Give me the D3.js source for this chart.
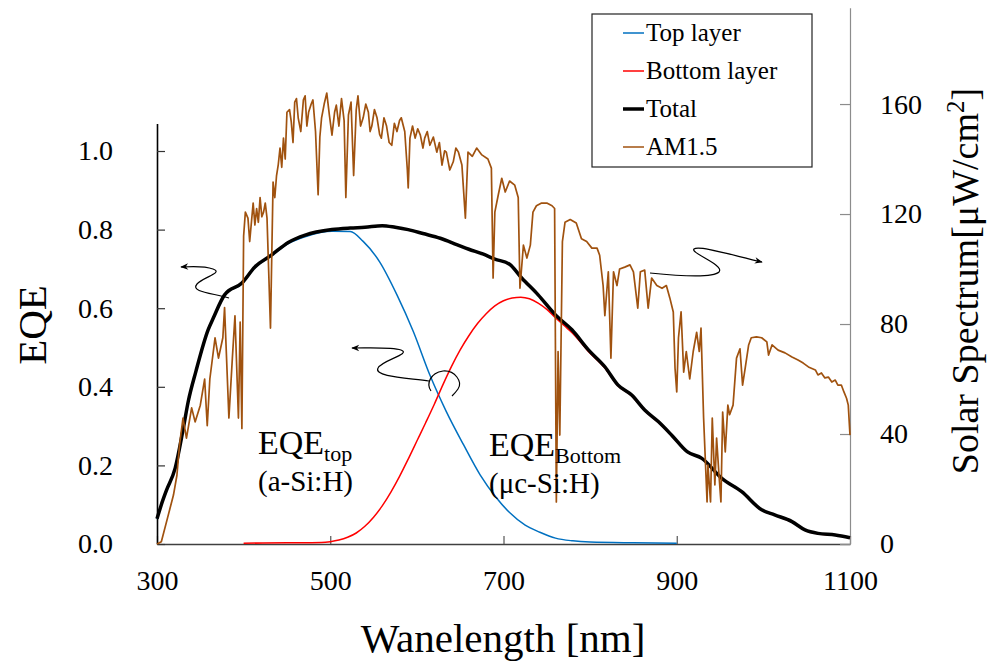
<!DOCTYPE html>
<html>
<head>
<meta charset="utf-8">
<script src="https://cdn.jsdelivr.net/npm/d3@7"></script>
<style>
  body { margin: 0; background: #fff; }
  svg { display: block; }
  text { font-family: "Liberation Serif", "Times New Roman", "DejaVu Serif", serif; }
</style>
</head>
<body>
<svg id="chart" width="990" height="661"></svg>
<script>
// Tandem a-Si:H / µc-Si:H cell: external quantum efficiency vs. AM1.5 spectrum
const SERIF = "'Liberation Serif','Times New Roman','DejaVu Serif',serif";

// Total EQE of the stack
const wlTotal = [300, 305, 311, 321, 330, 336, 345, 359, 365, 378, 398, 413, 432, 452, 471, 502, 523, 540, 560, 575,
                 590, 607, 627, 646, 660, 676, 690, 707, 721, 740, 760, 779, 798, 817, 832, 848, 863, 879, 895, 912,
                 929, 952, 975, 998, 1013, 1033, 1048, 1063, 1083, 1100];
const eqeTotal = [0.064, 0.10, 0.137, 0.193, 0.29, 0.362, 0.44, 0.545, 0.575, 0.634, 0.664, 0.705, 0.735, 0.768, 0.786, 0.80, 0.804, 0.806, 0.81, 0.806,
                  0.80, 0.79, 0.778, 0.762, 0.75, 0.738, 0.725, 0.712, 0.677, 0.634, 0.583, 0.545, 0.494, 0.451, 0.405, 0.379, 0.341, 0.311, 0.275, 0.235,
                  0.218, 0.167, 0.133, 0.087, 0.074, 0.057, 0.036, 0.027, 0.023, 0.016];

// Top cell (a-Si:H)
const wlTop = [300, 305, 311, 321, 330, 336, 345, 359, 365, 378, 398, 413, 432, 452, 471, 502, 523, 538, 557, 577,
               596, 615, 634, 654, 673, 692, 707, 725, 742, 760, 780, 800, 850, 900];
const eqeTop = [0.064, 0.10, 0.137, 0.193, 0.29, 0.362, 0.44, 0.545, 0.575, 0.634, 0.662, 0.703, 0.733, 0.765, 0.782, 0.796, 0.795, 0.77, 0.718, 0.634,
                0.54, 0.43, 0.337, 0.252, 0.176, 0.117, 0.08, 0.048, 0.03, 0.015, 0.008, 0.005, 0.003, 0.002];

// Bottom cell (µc-Si:H)
const wlBottom = [400, 450, 490, 500, 510, 520, 530, 540, 550, 560, 570, 580, 590, 600, 610, 620, 630, 640, 650, 660,
                  670, 680, 690, 700, 710, 720, 730, 740, 750, 760, 770, 780, 798, 817, 832, 848, 863, 879, 895, 912,
                  929, 952, 975, 998, 1013, 1033, 1048, 1063, 1083, 1100];
const eqeBottom = [0.002, 0.003, 0.004, 0.006, 0.01, 0.017, 0.028, 0.045, 0.068, 0.097, 0.132, 0.172, 0.216, 0.262, 0.308, 0.355, 0.405, 0.452, 0.494, 0.53,
                   0.561, 0.586, 0.606, 0.619, 0.626, 0.628, 0.624, 0.613, 0.597, 0.576, 0.556, 0.536, 0.49, 0.448, 0.403, 0.377, 0.339, 0.309, 0.273, 0.234,
                   0.217, 0.166, 0.132, 0.086, 0.073, 0.056, 0.035, 0.026, 0.022, 0.015];

// AM1.5 spectral irradiance [µW/cm²]
const wlSun = [300, 305, 313, 319, 323, 326, 330, 334, 340, 344, 350, 355, 358, 361, 367, 371, 376, 378, 383, 387,
               390, 394, 396, 398, 400, 402, 405, 407, 411, 413, 415, 417, 419, 421, 423, 425, 427, 431, 434, 436,
               438, 440, 442, 444, 446, 448, 450, 453, 455, 457, 459, 461, 463, 466, 469, 471, 473, 475, 478, 480,
               483, 486, 488, 490, 493, 496, 499, 502, 505, 507, 510, 513, 516, 518, 521, 524, 527, 530, 532, 535,
               538, 541, 544, 546, 548, 551, 554, 557, 559, 562, 565, 568, 571, 574, 577, 580, 582, 586, 589, 590,
               592, 595, 598, 601, 604, 607, 609, 612, 615, 619, 623, 626, 629, 632, 634, 638, 642, 645, 648, 652,
               656, 659, 664, 669, 675, 682, 686, 688, 690, 694, 698, 702, 707, 713, 717, 719, 723, 727, 731, 734,
               738, 744, 750, 756, 759, 761, 763, 765, 768, 771, 777, 784, 790, 796, 802, 808, 811, 815, 817, 821,
               824, 827, 831, 834, 840, 846, 850, 855, 858, 863, 867, 871, 877, 883, 888, 892, 896, 898, 900, 902,
               905, 908, 911, 915, 919, 923, 926, 928, 931, 935, 936, 939, 941, 944, 946, 949, 951, 953, 956, 959,
               961, 965, 969, 973, 976, 979, 983, 986, 992, 998, 1004, 1006, 1010, 1017, 1025, 1033, 1040, 1046, 1052, 1060,
               1063, 1067, 1071, 1075, 1079, 1083, 1086, 1090, 1093, 1096, 1098, 1100];
const sunPower = [0, 0.8, 10.5, 17.8, 25, 36, 45.8, 38.5, 49.5, 44.4, 50.5, 60, 43, 60, 75, 67.6, 75, 86, 45.8, 67.6,
                  83, 45.8, 80.7, 42, 112, 120.7, 118.5, 110, 124, 116, 122, 117, 126, 119, 120.7, 124, 118.5, 78.5, 131.6, 126,
                  134, 138, 144, 137, 147.6, 140, 157, 158, 153.5, 146, 160.7, 162, 155, 150, 161.5, 163, 152, 157, 160, 161.5,
                  150, 127, 148, 155, 160, 164, 156, 148.7, 157, 159.6, 152, 162, 154, 126, 156, 160.7, 134, 158, 163, 152,
                  155, 160, 157, 150, 152, 158, 155, 149, 147.6, 155, 152, 146, 145, 153, 150, 154, 155, 150, 136, 129.5,
                  147.6, 152, 147.6, 151, 148.7, 144, 147.6, 150, 145, 148, 142.5, 146, 137.8, 143, 142.5, 136, 139, 144, 142.5, 137.8,
                  118.5, 142.5, 141, 144, 141.5, 140, 136.7, 96.7, 120.7, 127, 133, 128, 132, 130.5, 126, 93, 108.7, 104, 108.7, 120.7,
                  123, 124, 124, 123, 122, 15.3, 70, 39.6, 110, 117, 118, 116.7, 111, 110, 107.6, 107.6, 105, 94, 83, 99,
                  67.6, 99, 94, 100, 100.7, 101.5, 99, 85.8, 99, 99.6, 85.8, 96.7, 94, 93, 94, 89.5, 84.4, 64, 55.3, 75,
                  84.4, 62.5, 70, 60, 70, 77, 70, 78.5, 45.8, 15.3, 28.7, 15.3, 45.8, 21.5, 38.5, 24, 15.3, 48, 33.5, 50.5,
                  47, 50.5, 67.6, 71, 57.8, 64, 72.4, 75, 75.3, 75, 73.5, 68.7, 72.4, 70.5, 69.5, 68, 66.9, 65.8, 64.4, 63.3,
                  61.5, 62.2, 60.4, 60.7, 58.9, 59.6, 57.8, 57.8, 55.3, 53, 50.5, 39.6];

const xTicks = [300, 500, 700, 900, 1100];
const eqeTicks = [0, 0.2, 0.4, 0.6, 0.8, 1.0];
const sunTicks = [0, 40, 80, 120, 160];
const legendLabels = ["Top layer", "Bottom layer", "Total", "AM1.5"];
const seriesColors = ["#0070C0", "#FF0000", "#000000", "#A0520F"];
const seriesWidths = [1.5, 1.5, 3.5, 1.7];

const svg = d3.select("#chart");

const x = d3.scaleLinear().domain([300, 1100]).range([157, 850]);
const yL = d3.scaleLinear().domain([0, 1.07]).range([544, 123.5]);
const yR = d3.scaleLinear().domain([0, 195]).range([544, 7.8]);

// arrowhead for annotation arrows
svg.append("defs").append("marker")
  .attr("id", "head")
  .attr("viewBox", "0 0 10 10")
  .attr("refX", 9).attr("refY", 5)
  .attr("markerUnits", "userSpaceOnUse")
  .attr("markerWidth", 11).attr("markerHeight", 8)
  .attr("orient", "auto")
  .append("path")
  .attr("d", "M0,1 L10,5 L0,9 L3,5 Z")
  .attr("fill", "#000");

// axes
const gB = svg.append("g").attr("transform", "translate(0,544)")
  .call(d3.axisBottom(x).tickValues(xTicks).tickSizeInner(-8).tickSizeOuter(0).tickPadding(26).tickFormat(d3.format("d")));
gB.select(".domain").attr("stroke", "#404040").attr("stroke-width", 1.6);
gB.selectAll(".tick line").attr("stroke", "#555").attr("stroke-width", 1.2);

const gR = svg.append("g").attr("transform", "translate(850,0)")
  .call(d3.axisRight(yR).tickValues(sunTicks).tickSizeInner(-10).tickSizeOuter(0).tickPadding(30).tickFormat(d3.format("d")));
gR.select(".domain").attr("stroke", "#8c8c8c").attr("stroke-width", 1.2);
gR.selectAll(".tick line").attr("stroke", "#8c8c8c").attr("stroke-width", 1.2);

const gL = svg.append("g").attr("transform", "translate(157,0)")
  .call(d3.axisLeft(yL).tickValues(eqeTicks).tickSizeInner(-8).tickSizeOuter(0).tickPadding(44).tickFormat(d3.format(".1f")));
gL.select(".domain").attr("stroke", "#000").attr("stroke-width", 1.6);
gL.selectAll(".tick line").attr("stroke", "#333").attr("stroke-width", 1.2);

svg.selectAll("g").attr("font-family", SERIF);
svg.selectAll(".tick text").attr("font-family", SERIF).attr("font-size", 28).attr("fill", "#000");

// axis titles
svg.append("text").attr("x", 503).attr("y", 652).attr("text-anchor", "middle")
  .attr("font-family", SERIF).attr("font-size", 41).text("Wanelength [nm]");
svg.append("text").attr("transform", "translate(46,325) rotate(-90)").attr("text-anchor", "middle")
  .attr("font-family", SERIF).attr("font-size", 41).text("EQE");
const rt = svg.append("text").attr("transform", "translate(978,281) rotate(-90)").attr("text-anchor", "middle")
  .attr("font-family", SERIF).attr("font-size", 38);
rt.append("tspan").text("Solar Spectrum[\u03bcW/cm");
rt.append("tspan").attr("font-size", 25).attr("dy", -14).text("2");
rt.append("tspan").attr("dy", 14).text("]");

// curves
const curveSets = [
  { wl: wlTop, v: eqeTop, y: yL, curve: d3.curveMonotoneX },
  { wl: wlBottom, v: eqeBottom, y: yL, curve: d3.curveMonotoneX },
  { wl: wlTotal, v: eqeTotal, y: yL, curve: d3.curveMonotoneX },
  { wl: wlSun, v: sunPower, y: yR, curve: d3.curveLinear }
];
curveSets.forEach((s, i) => {
  const pts = s.wl.map((w, k) => [w, s.v[k]]);
  const line = d3.line().x(d => x(d[0])).y(d => s.y(d[1])).curve(s.curve);
  svg.append("path").datum(pts)
    .attr("d", line)
    .attr("fill", "none")
    .attr("stroke", seriesColors[i])
    .attr("stroke-width", seriesWidths[i])
    .attr("stroke-linejoin", "round");
});

// cell labels
function cellLabel(px, py, main, sub, second) {
  const t = svg.append("text").attr("x", px).attr("y", py)
    .attr("font-family", SERIF).attr("font-size", 34);
  t.append("tspan").text(main);
  t.append("tspan").attr("font-size", 22).attr("dy", 7).text(sub);
  svg.append("text").attr("x", px).attr("y", py + 37)
    .attr("font-family", SERIF).attr("font-size", 29).text(second);
}
cellLabel(258, 454, "EQE", "top", "(a-Si:H)");
cellLabel(489, 456, "EQE", "Bottom", "(\u03bcc-Si:H)");

// annotation arrows
const arrows = [
  { d: "M229,298 C212,293 190,292 197,284 C203,277 224,273 213,269 C205,266 196,266 181,267", head: true },
  { d: "M429,381 C410,378 373,377 378,368 C382,360 412,354 401,350 C392,347 372,348 352,348", head: true },
  { d: "M431,391 C426,384 430,373 443,371 C455,370 463,382 458,389 C456,392 454,394 452,396", head: false },
  { d: "M650,273 C680,276 713,278 719,272 C725,265 690,253 694,249 C699,245 735,256 762,262", head: true }
];
arrows.forEach(a => {
  const p = svg.append("path").attr("d", a.d).attr("fill", "none")
    .attr("stroke", "#000").attr("stroke-width", 1.2);
  if (a.head) p.attr("marker-end", "url(#head)");
});

// legend
const lg = svg.append("g").attr("font-family", SERIF);
lg.append("rect").attr("x", 592).attr("y", 14).attr("width", 220).attr("height", 153)
  .attr("fill", "#fff").attr("stroke", "#222").attr("stroke-width", 1.2);
const rowY = d3.scalePoint().domain(legendLabels).range([33, 147]);
legendLabels.forEach((lab, i) => {
  const yy = rowY(lab);
  lg.append("line").attr("x1", 623).attr("x2", 644).attr("y1", yy).attr("y2", yy)
    .attr("stroke", seriesColors[i]).attr("stroke-width", i === 2 ? 3.5 : 1.5);
  lg.append("text").attr("x", 646).attr("y", yy).attr("dy", "0.33em")
    .attr("font-family", SERIF).attr("font-size", 25).text(lab);
});
</script>
</body>
</html>
